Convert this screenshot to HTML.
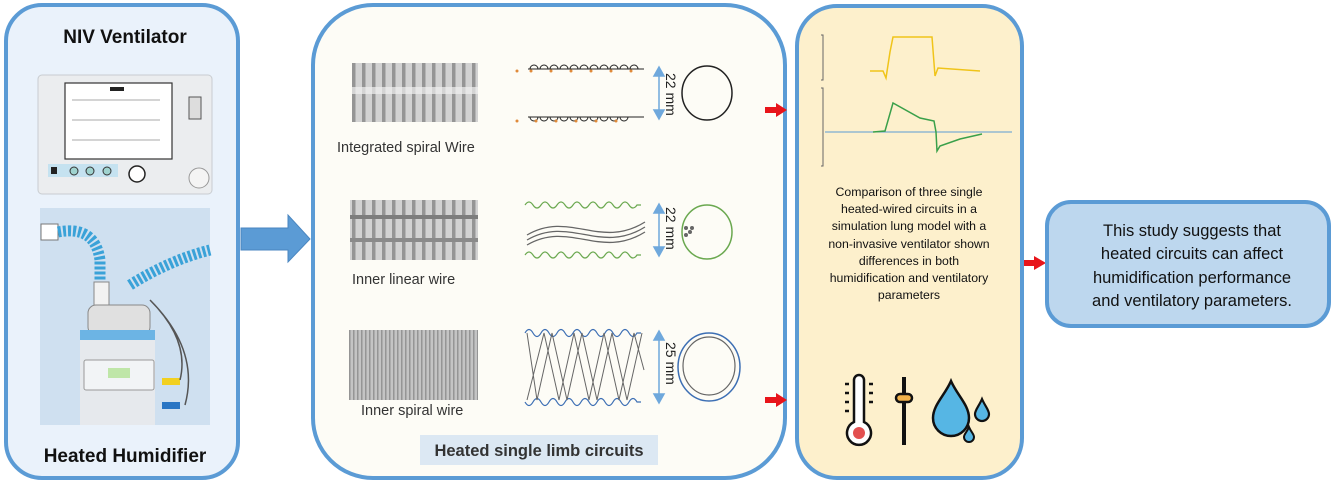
<!DOCTYPE html>
<html><head><meta charset="utf-8"><style>
html,body{margin:0;padding:0;background:#fff;}
svg{display:block;}
text{font-family:"Liberation Sans",sans-serif;}
</style></head><body>
<svg width="1333" height="484" viewBox="0 0 1333 484" xmlns="http://www.w3.org/2000/svg">
<!-- Left box -->
<rect x="6" y="5" width="232" height="473" rx="36" fill="#eaf2fb" stroke="#5b9bd5" stroke-width="4"/>
<text x="125" y="43" font-size="19" font-weight="bold" text-anchor="middle" fill="#111">NIV Ventilator</text>
<text x="125" y="462" font-size="19" font-weight="bold" text-anchor="middle" fill="#111">Heated Humidifier</text>
<!-- ventilator -->
<rect x="38" y="75" width="174" height="119" rx="4" fill="#ebedef" stroke="#c8ccd0"/>
<rect x="65" y="83" width="107" height="76" fill="#fff" stroke="#333" stroke-width="1.2"/>
<line x1="72" y1="100" x2="160" y2="100" stroke="#aaa"/><line x1="72" y1="120" x2="160" y2="120" stroke="#aaa"/><line x1="72" y1="140" x2="160" y2="140" stroke="#aaa"/>
<rect x="110" y="87" width="14" height="4" fill="#222"/>
<rect x="48" y="164" width="70" height="13" fill="#c5e2f0"/>
<circle cx="74" cy="171" r="4" fill="#9fd3cf" stroke="#333"/><circle cx="90" cy="171" r="4" fill="#9fd3cf" stroke="#333"/><circle cx="107" cy="171" r="4" fill="#9fd3cf" stroke="#333"/>
<rect x="51" y="167" width="6" height="7" fill="#222"/>
<circle cx="137" cy="174" r="8" fill="#fff" stroke="#222" stroke-width="1.5"/>
<circle cx="199" cy="178" r="10" fill="#f4f4f4" stroke="#999"/>
<rect x="189" y="97" width="12" height="22" fill="#ddd" stroke="#555"/>
<!-- humidifier -->
<rect x="40" y="208" width="170" height="217" fill="#cfe0f0"/>
<rect x="41" y="224" width="17" height="16" fill="#fff" stroke="#777"/>
<path d="M58 232 Q95 225 100 260 L100 280" fill="none" stroke="#3aa2d8" stroke-width="11" stroke-dasharray="3 2"/>
<path d="M130 285 Q170 260 210 250" fill="none" stroke="#3aa2d8" stroke-width="11" stroke-dasharray="3 2"/>
<rect x="94" y="282" width="15" height="30" fill="#f2f2f2" stroke="#888"/>
<rect x="88" y="305" width="62" height="30" rx="8" fill="#e0e0e0" stroke="#888"/>
<rect x="80" y="330" width="75" height="10" fill="#6cb4e4"/>
<rect x="80" y="340" width="75" height="85" fill="#e6e9ed"/>
<rect x="84" y="360" width="70" height="30" rx="2" fill="#f2f4f6" stroke="#999"/>
<rect x="108" y="368" width="22" height="10" fill="#bfe6a8"/>
<rect x="162" y="378" width="18" height="7" fill="#f2d020"/><rect x="162" y="402" width="18" height="7" fill="#2a76c4"/>
<path d="M150 300 Q190 340 180 380 M150 300 Q200 350 185 405" fill="none" stroke="#555" stroke-width="1.5"/>
<!-- big arrow -->
<polygon points="241,228 288,228 288,215 310,239 288,262 288,250 241,250" fill="#5b9bd5" stroke="#4a86c0"/>
<!-- middle box -->
<rect x="313" y="5" width="472" height="473" rx="60" fill="#fdfcf6" stroke="#5b9bd5" stroke-width="4"/>
<defs>
<pattern id="sp1" width="10" height="60" patternUnits="userSpaceOnUse"><rect width="10" height="60" fill="#d2d2d2"/><rect x="2" width="3.5" height="60" fill="#959595"/></pattern>
<pattern id="sp3" width="4" height="70" patternUnits="userSpaceOnUse"><rect width="4" height="70" fill="#c4c4c4"/><rect x="1" width="1.5" height="70" fill="#959595"/></pattern>
</defs>
<rect x="352" y="63" width="126" height="59" fill="url(#sp1)"/>
<rect x="352" y="87" width="126" height="7" fill="#efefef" opacity=".7"/>
<rect x="350" y="200" width="128" height="60" fill="url(#sp1)"/>
<rect x="350" y="215" width="128" height="4" fill="#7d7d7d"/><rect x="350" y="238" width="128" height="4" fill="#8a8a8a"/>
<rect x="349" y="330" width="129" height="70" fill="url(#sp3)"/>
<g font-size="14.5" fill="#333">
<text x="337" y="152">Integrated spiral Wire</text>
<text x="352" y="284">Inner linear wire</text>
<text x="361" y="415">Inner spiral wire</text>
</g>
<!-- diagram 1 -->
<line x1="528" y1="69" x2="644" y2="69" stroke="#222"/>
<line x1="528" y1="117" x2="644" y2="117" stroke="#222"/>
<path d="M530 69 a4 4 0 0 1 8 0 m2 0 a4 4 0 0 1 8 0 m2 0 a4 4 0 0 1 8 0 m2 0 a4 4 0 0 1 8 0 m2 0 a4 4 0 0 1 8 0 m2 0 a4 4 0 0 1 8 0 m2 0 a4 4 0 0 1 8 0 m2 0 a4 4 0 0 1 8 0 m2 0 a4 4 0 0 1 8 0 m2 0 a4 4 0 0 1 8 0 m2 0 a4 4 0 0 1 8 0" fill="none" stroke="#222"/>
<path d="M530 117 a4 4 0 0 0 8 0 m2 0 a4 4 0 0 0 8 0 m2 0 a4 4 0 0 0 8 0 m2 0 a4 4 0 0 0 8 0 m2 0 a4 4 0 0 0 8 0 m2 0 a4 4 0 0 0 8 0 m2 0 a4 4 0 0 0 8 0 m2 0 a4 4 0 0 0 8 0 m2 0 a4 4 0 0 0 8 0 m2 0 a4 4 0 0 0 8 0" fill="none" stroke="#222"/>
<g fill="#e08a3a"><circle cx="517" cy="71" r="1.5"/><circle cx="531" cy="71" r="1.5"/><circle cx="551" cy="71" r="1.5"/><circle cx="571" cy="71" r="1.5"/><circle cx="591" cy="71" r="1.5"/><circle cx="611" cy="71" r="1.5"/><circle cx="631" cy="71" r="1.5"/>
<circle cx="517" cy="121" r="1.5"/><circle cx="536" cy="121" r="1.5"/><circle cx="556" cy="121" r="1.5"/><circle cx="576" cy="121" r="1.5"/><circle cx="596" cy="121" r="1.5"/><circle cx="616" cy="121" r="1.5"/></g>
<ellipse cx="707" cy="93" rx="25" ry="27" fill="none" stroke="#222" stroke-width="1.5"/>
<!-- diagram 2 -->
<path d="M525 205 q4 -6 8 0 t8 0 t8 0 t8 0 t8 0 t8 0 t8 0 t8 0 t8 0 t8 0 t8 0 t8 0 t8 0 t8 0 l4 0" fill="none" stroke="#6aa84f" stroke-width="1.2"/>
<path d="M525 255 q4 -6 8 0 t8 0 t8 0 t8 0 t8 0 t8 0 t8 0 t8 0 t8 0 t8 0 t8 0 t8 0 t8 0 t8 0 l4 0" fill="none" stroke="#6aa84f" stroke-width="1.2"/>
<path d="M527 235 C570 210 600 250 645 222 M527 240 C570 215 600 255 645 227 M527 245 C570 220 600 260 645 232" fill="none" stroke="#666" stroke-width="1.3"/>
<ellipse cx="707" cy="232" rx="25" ry="27" fill="none" stroke="#6aa84f" stroke-width="1.5"/>
<g fill="#666"><circle cx="686" cy="228" r="2"/><circle cx="690" cy="232" r="2"/><circle cx="686" cy="235" r="2"/><circle cx="692" cy="228" r="2"/></g>
<!-- diagram 3 -->
<path d="M525 333 q4 -7 8 0 t8 0 t8 0 t8 0 t8 0 t8 0 t8 0 t8 0 t8 0 t8 0 t8 0 t8 0 t8 0 t8 0 l4 0" fill="none" stroke="#3d6fb4" stroke-width="1.2"/>
<path d="M525 402 q4 7 8 0 t8 0 t8 0 t8 0 t8 0 t8 0 t8 0 t8 0 t8 0 t8 0 t8 0 t8 0 t8 0 t8 0 l4 0" fill="none" stroke="#3d6fb4" stroke-width="1.2"/>
<path d="M527 333 L537 400 L552 333 L567 400 L582 333 L597 400 L612 333 L627 400 L642 333 M527 400 L544 333 L559 400 L574 333 L589 400 L604 333 L619 400 L634 333 L644 370" fill="none" stroke="#666" stroke-width="1"/>
<ellipse cx="709" cy="367" rx="31" ry="34" fill="none" stroke="#3d6fb4" stroke-width="1.5"/>
<ellipse cx="709" cy="366" rx="26" ry="29" fill="none" stroke="#666" stroke-width="1.2"/>
<!-- dimension arrows -->
<g stroke="#6fa8dc" stroke-width="1.5" fill="#6fa8dc">
<line x1="659" y1="74" x2="659" y2="112"/><polygon points="654,76 664,76 659,67"/><polygon points="654,110 664,110 659,119"/>
<line x1="659" y1="211" x2="659" y2="249"/><polygon points="654,213 664,213 659,204"/><polygon points="654,247 664,247 659,256"/>
<line x1="659" y1="338" x2="659" y2="396"/><polygon points="654,340 664,340 659,331"/><polygon points="654,394 664,394 659,403"/>
</g>
<g font-size="14" fill="#222">
<text transform="translate(666,73) rotate(90)">22 mm</text>
<text transform="translate(666,207) rotate(90)">22 mm</text>
<text transform="translate(666,342) rotate(90)">25 mm</text>
</g>
<rect x="420" y="435" width="238" height="30" fill="#dce8f3"/>
<text x="539" y="456" font-size="16.5" font-weight="bold" text-anchor="middle" fill="#333">Heated single limb circuits</text>
<!-- red arrows -->
<g fill="#e8141a">
<rect x="765" y="107" width="12" height="6"/><polygon points="776,103 787,110 776,117"/>
<rect x="765" y="397" width="12" height="6"/><polygon points="776,393 787,400 776,407"/>
<rect x="1023" y="260" width="12" height="6"/><polygon points="1034,256 1046,263 1034,270"/>
</g>
<!-- yellow box -->
<rect x="797" y="6" width="225" height="472" rx="40" fill="#fdf0cc" stroke="#5b9bd5" stroke-width="4"/>
<path d="M821 35 l2 0 0 45 -2 0 M821 88 l2 0 0 78 -2 0" fill="none" stroke="#666"/>
<line x1="825" y1="132" x2="1012" y2="132" stroke="#5b9bd5" stroke-width="1"/>
<path d="M870 71 L883 71 L886 78 L890 52 L893 37 L932 37 L935 76 L938 68 L980 71" fill="none" stroke="#f0c419" stroke-width="1.5"/>
<path d="M873 132 L885 131 L893 103 L920 118 L934 121 L936 132 L937 151 L940 146 L960 139 L982 134" fill="none" stroke="#3aa04a" stroke-width="1.5"/>
<g font-size="12.3" fill="#111" text-anchor="middle">
<text x="909" y="196">Comparison of three single</text>
<text x="909" y="213">heated-wired circuits in a</text>
<text x="909" y="230">simulation lung model with a</text>
<text x="909" y="248">non-invasive ventilator shown</text>
<text x="909" y="265">differences in both</text>
<text x="909" y="282">humidification and ventilatory</text>
<text x="909" y="299">parameters</text>
</g>
<!-- icons -->
<g stroke="#111" stroke-width="2.5" fill="none">
<path d="M854 380 a5 5 0 0 1 10 0 v42 a12 12 0 1 1 -10 0 z" fill="#fff"/>
<circle cx="859" cy="433" r="6" fill="#e35050" stroke="none"/>
<line x1="849" y1="384" x2="845" y2="384"/><line x1="849" y1="393" x2="845" y2="393"/><line x1="849" y1="402" x2="845" y2="402"/><line x1="849" y1="411" x2="845" y2="411"/>
<line x1="869" y1="384" x2="873" y2="384"/><line x1="869" y1="393" x2="873" y2="393"/><line x1="869" y1="402" x2="873" y2="402"/>
<line x1="904" y1="377" x2="904" y2="445" stroke-width="4"/>
<rect x="896" y="394" width="16" height="8" rx="4" fill="#f2b24a"/>
</g>
<path d="M951 381 C945 395 933 405 933 418 a18 18 0 0 0 36 0 C969 405 957 395 951 381 z" fill="#56b6e4" stroke="#111" stroke-width="2.5"/>
<path d="M982 399 C979 406 975 410 975 414 a7 7 0 0 0 14 0 C989 410 985 406 982 399 z" fill="#56b6e4" stroke="#111" stroke-width="2.2"/>
<path d="M969 427 C967 432 964 434 964 437 a5 5 0 0 0 10 0 C974 434 971 432 969 427 z" fill="#56b6e4" stroke="#111" stroke-width="2"/>
<!-- result box -->
<rect x="1047" y="202" width="282" height="124" rx="24" fill="#bdd7ee" stroke="#5b9bd5" stroke-width="4"/>
<g font-size="16.5" fill="#111" text-anchor="middle">
<text x="1192" y="236">This study suggests that</text>
<text x="1192" y="259">heated circuits can affect</text>
<text x="1192" y="283">humidification performance</text>
<text x="1192" y="306">and ventilatory parameters.</text>
</g>
</svg>
</body></html>
